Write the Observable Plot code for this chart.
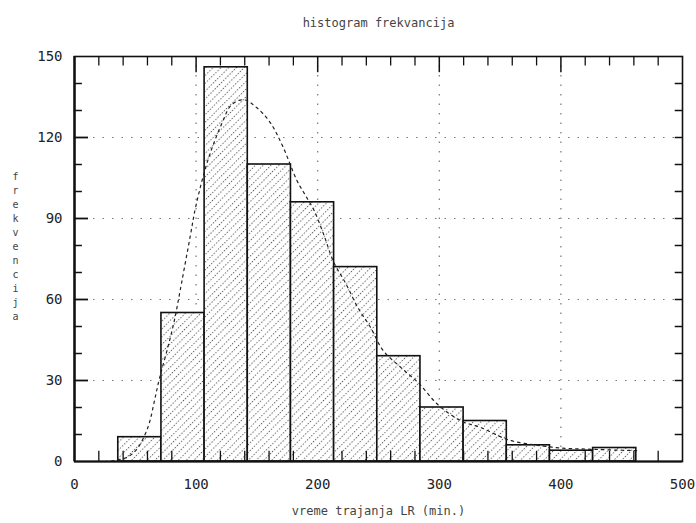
<!DOCTYPE html>
<html>
<head>
<meta charset="utf-8">
<script src="https://cdn.jsdelivr.net/npm/d3@7"></script>
<script src="https://cdn.jsdelivr.net/npm/@observablehq/plot@0.6"></script>
<style>
  html, body { margin: 0; padding: 0; background: #fff; }
</style>
</head>
<body>
<div id="chart"></div>
<script>
// ---- data ----
const titleText = "histogram frekvancija";
const xLabelText = "vreme trajanja LR (min.)";
const yLabelText = "frekvencija";

const binEdges = [36, 71.5, 107, 142.5, 178, 213.5, 249, 284.5, 320, 355.5, 391, 426.5, 462];
const counts   = [9, 55, 146, 110, 96, 72, 39, 20, 15, 6, 4, 5];

const curveX = [25, 35, 45, 52, 58, 62, 66, 70, 76, 82, 88, 95, 100, 110, 121, 129, 139, 150, 161, 171, 183, 190, 197, 205, 213, 223, 233, 243, 254, 268, 283, 299, 318, 334, 357, 381, 400, 420, 440, 465];
const curveY = [0, 0.5, 2, 5, 10, 15, 23, 31, 41, 52, 66, 83, 95, 112, 125, 132, 134, 131, 125.5, 117, 104, 98.5, 93, 84, 74, 66, 57, 50, 41, 35, 29, 21, 15, 12.6, 8, 6, 5, 4.6, 4.3, 4];

const xTickLabels = [0, 100, 200, 300, 400, 500];
const yTickLabels = [0, 30, 60, 90, 120, 150];
const xGrid = [100, 200, 300, 400];
const yGrid = [30, 60, 90, 120];
const yMinor = [10, 20, 40, 50, 70, 80, 100, 110, 130, 140];
const yMajor = [30, 60, 90, 120];
const xMinor = [20, 40, 60, 80, 120, 140, 160, 180, 220, 240, 260, 280, 320, 340, 360, 380, 420, 440, 460, 480];
const xMajor = [100, 200, 300, 400];
const rightTicks = [10, 20, 30, 40, 50, 60, 70, 80, 90, 100, 110, 120, 130, 140];

// ---- build tables ----
const bars = counts.map((c, i) => ({x1: binEdges[i], x2: binEdges[i + 1], y: c}));
const curve = curveX.map((x, i) => ({x, y: curveY[i]}));

const mono = "'DejaVu Sans Mono', 'Liberation Mono', monospace";

const chart = Plot.plot({
  width: 696,
  height: 523,
  marginLeft: 74,
  marginRight: 14,
  marginTop: 56,
  marginBottom: 62,
  style: {fontFamily: mono, fontSize: "13px", background: "#fff", color: "#111"},
  x: {domain: [0, 500], axis: null},
  y: {domain: [0, 150], axis: null},
  marks: [
    // dotted grid
    Plot.ruleY(yGrid, {stroke: "#777", strokeWidth: 1.2, strokeDasharray: "1.5,8"}),
    Plot.ruleX(xGrid, {stroke: "#777", strokeWidth: 1.2, strokeDasharray: "1.5,8"}),
    // hatched bars
    Plot.rectY(bars, {x1: "x1", x2: "x2", y: "y", fill: "url(#hatch)", stroke: "#111", strokeWidth: 1.6}),
    // fitted curve
    Plot.line(curve, {x: "x", y: "y", curve: "catmull-rom", stroke: "#222", strokeWidth: 1.2, strokeDasharray: "2.5,4"}),
    // frame
    Plot.frame({stroke: "#111", strokeWidth: 1.6}),
    Plot.ruleX([0], {stroke: "#111", strokeWidth: 2.4}),
    Plot.ruleY([0], {stroke: "#111", strokeWidth: 2}),
    // inward ticks: left
    Plot.ruleY(yMinor, {x1: 0, x2: 6.5, stroke: "#111", strokeWidth: 1.5}),
    Plot.ruleY(yMajor, {x1: 0, x2: 11.5, stroke: "#111", strokeWidth: 1.8}),
    // right
    Plot.ruleY(rightTicks, {x1: 494, x2: 500, stroke: "#111", strokeWidth: 1.5}),
    // top
    Plot.ruleX(xMinor, {y1: 150, y2: 146.5, stroke: "#111", strokeWidth: 1.3}),
    Plot.ruleX(xMajor, {y1: 150, y2: 144, stroke: "#111", strokeWidth: 1.5}),
    // bottom
    Plot.ruleX(xMinor, {y1: 0, y2: 3.8, stroke: "#111", strokeWidth: 1.3}),
    // tick labels
    Plot.text(xTickLabels, {x: d => d, frameAnchor: "bottom", dy: 27, text: d => String(d), fontSize: 14, fill: "#222"}),
    Plot.text(yTickLabels, {y: d => d, frameAnchor: "left", dx: -12, textAnchor: "end", text: d => String(d), fontSize: 14, fill: "#222"}),
    // titles
    Plot.text([titleText], {frameAnchor: "top", dy: -38, fontSize: 12, fill: "#444"}),
    Plot.text([xLabelText], {frameAnchor: "bottom", dy: 53, fontSize: 12, fill: "#444"}),
    Plot.text([yLabelText.split("").join("\n")], {frameAnchor: "left", dx: -62, dy: -13, fontSize: 10, lineHeight: 1.4, fill: "#444"})
  ]
});

// hatch pattern
const svg = d3.select(chart);
const defs = svg.insert("defs", ":first-child");
const pat = defs.append("pattern")
  .attr("id", "hatch")
  .attr("patternUnits", "userSpaceOnUse")
  .attr("width", 5.5)
  .attr("height", 6)
  .attr("patternTransform", "rotate(45)");
pat.append("rect").attr("width", 5.5).attr("height", 6).attr("fill", "#fff");
pat.append("line")
  .attr("x1", 0.5).attr("y1", 0).attr("x2", 0.5).attr("y2", 6)
  .attr("stroke", "#555").attr("stroke-width", 1).attr("stroke-dasharray", "1.2,1.8");

document.getElementById("chart").appendChild(chart);
</script>
</body>
</html>
